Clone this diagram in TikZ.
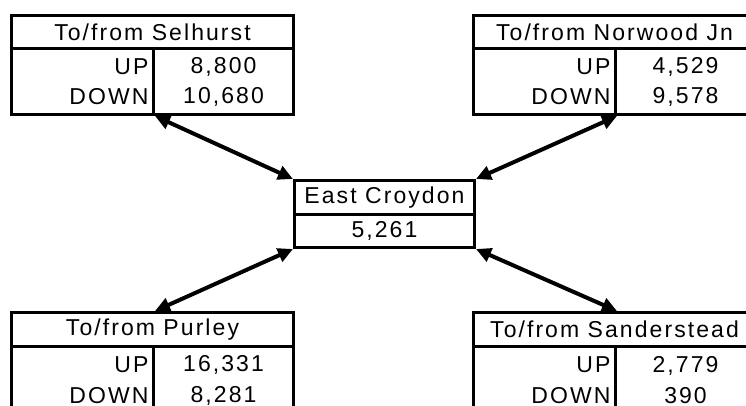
\documentclass[tikz,border=0pt]{standalone}
\usepackage{fontspec}
\setmainfont{Liberation Sans}[LetterSpace=9]
\usetikzlibrary{arrows.meta}
\tikzset{
	tabhead/.style={draw, line width=3pt, minimum width=282pt, minimum height=33pt, inner sep=0pt, anchor=north west},
	tablab/.style={draw, line width=3pt, text width=132pt, inner xsep=5pt, inner ysep=0pt, minimum height=66pt, align=right, anchor=north west},
	tabval/.style={draw, line width=3pt, text width=130pt, inner xsep=5pt, inner ysep=0pt, minimum height=66pt, align=center, anchor=north west},
	lowrows/.style={font=\fontsize{23pt}{31pt}\selectfont, minimum height=68pt},
	midbox/.style={draw, line width=3pt, minimum width=180pt, minimum height=33pt, inner sep=0pt, anchor=north west},
	twoway/.style={{Triangle[length=15pt,width=14pt]}-{Triangle[length=15pt,width=14pt]}, line width=4pt}
}

\begin{document}
\begin{tikzpicture}[x=1pt, y=-1pt, font=\fontsize{23pt}{30pt}\selectfont]
			%%%%% START %%%%%
			\useasboundingbox (0,0) rectangle (746,405);
			\clip (0,0) rectangle (746,405);
			\fill[white] (0,0) rectangle (746,405);
			
			\node[tabhead] (selhurst) at (10,14) {To/from Selhurst};
			\node[tablab] (selhurst-lab) at (10,47) {UP\\DOWN};
			\node[tabval] (selhurst-val) at (152,47) {8,800\\10,680};
			
			\node[tabhead] (norwood) at (472,14) {To/from Norwood Jn};
			\node[tablab] (norwood-lab) at (472,47) {UP\\DOWN};
			\node[tabval] (norwood-val) at (614,47) {4,529\\9,578};
			
			% lower tables run off the bottom edge
			\node[tabhead, minimum height=34pt] (purley) at (10,311) {To/from Purley};
			\node[tablab, lowrows] (purley-lab) at (10,345) {UP\\DOWN};
			\node[tabval, lowrows] (purley-val) at (152,345) {16,331\\8,281};
			
			\node[tabhead, minimum height=34pt] (sanderstead) at (472,311) {To/from Sanderstead};
			\node[tablab, lowrows] (sanderstead-lab) at (472,345) {UP\\DOWN};
			\node[tabval, lowrows] (sanderstead-val) at (614,345) {2,779\\390};
			
			\node[midbox, minimum height=34pt] (croydon) at (293,179) {East Croydon};
			\node[midbox] (croydon-val) at (293,213) {5,261};
			
			\draw[twoway] (selhurst-lab.south east) -- (croydon.north west);
			\draw[twoway] (norwood-lab.south east) -- (croydon.north east);
			\draw[twoway] (purley-lab.east |- purley.north) -- (croydon-val.south west);
			\draw[twoway] (sanderstead-lab.east |- sanderstead.north) -- (croydon-val.south east);
			%%%%% END %%%%%
\end{tikzpicture}
\end{document}
